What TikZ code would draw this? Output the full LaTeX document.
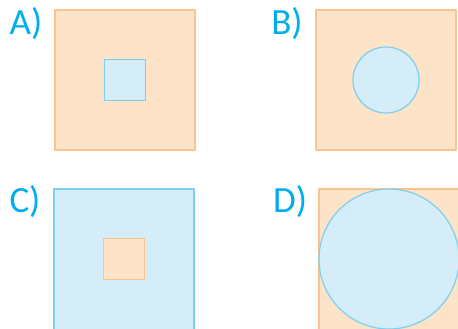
\documentclass[tikz,border=0pt]{standalone}
\usepackage{fontspec}
\setmainfont{Carlito}
\usepackage{tikz}

\begin{document}
\begin{tikzpicture}[
    line cap=round,
    line join=round,
    x=1pt,
    y=1pt
]

% =========================================================
% Colors
% =========================================================
\definecolor{peachfill}{RGB}{253,227,200}
\definecolor{peachline}{RGB}{251,196,140}
\definecolor{skyfill}{RGB}{213,236,249}
\definecolor{skyline}{RGB}{125,208,240}
\definecolor{labelcyan}{RGB}{0,174,239}

% =========================================================
% Styles
% =========================================================
\tikzset{
    peachshape/.style={fill=peachfill,draw=peachline,line width=1.2pt},
    skyshape/.style={fill=skyfill,draw=skyline,line width=1.2pt},
    panellabel/.style={labelcyan,font=\fontsize{37}{37}\selectfont,inner sep=0pt}
}

\useasboundingbox (0,0) rectangle (458,329);

% =========================================================
% Panel A: small square in big square
% =========================================================
\begin{scope}[shift={(55,179)}]
    \node[panellabel] (labA) at (-29,126) {A)};
    \draw[peachshape] (0,0) rectangle (140,140);
    \draw[skyshape] (49.5,49.5) rectangle (90.5,90.5);
\end{scope}

% =========================================================
% Panel B: small circle in big square
% =========================================================
\begin{scope}[shift={(316,179)}]
    \node[panellabel] (labB) at (-29,126) {B)};
    \draw[peachshape] (0,0) rectangle (140,140);
    \draw[skyshape] (70,70) circle (33);
\end{scope}

% =========================================================
% Panel C: colours swapped (cut at the bottom edge)
% =========================================================
\begin{scope}[shift={(54,0)}]
    \node[panellabel] (labC) at (-29,127) {C)};
    \draw[skyshape] (0,-3) rectangle (140,140);
    \draw[peachshape] (49.5,49.5) rectangle (90.5,90.5);
\end{scope}

% =========================================================
% Panel D: inscribed circle (cut at the edges)
% =========================================================
\begin{scope}[shift={(319,0)}]
    \node[panellabel] (labD) at (-29,127) {D)};
    \draw[peachshape] (0,-3) rectangle (143,140);
    \draw[skyshape] (70,70) circle (70);
\end{scope}

\end{tikzpicture}
\end{document}
